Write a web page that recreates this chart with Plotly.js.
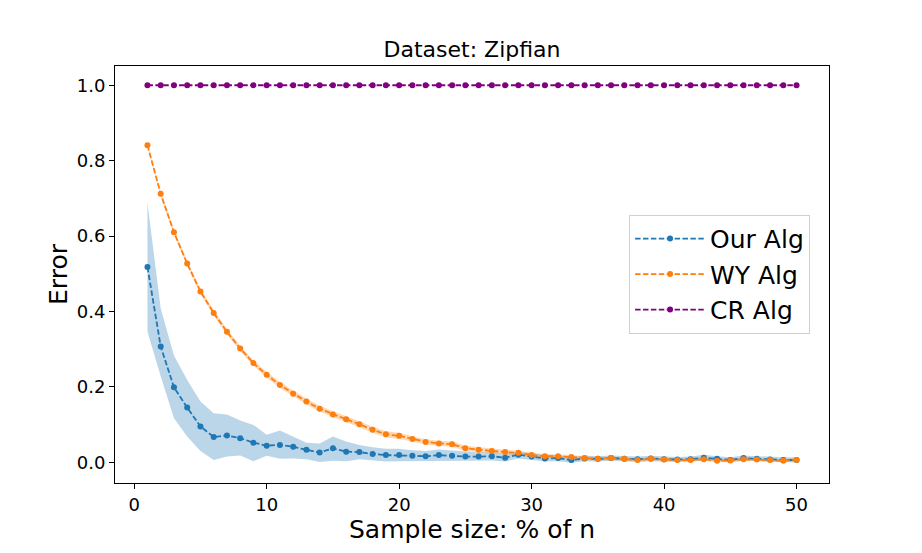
<!DOCTYPE html>
<html>
<head>
<meta charset="utf-8">
<script src="https://cdn.plot.ly/plotly-3.0.1.min.js"></script>
<style>html,body{margin:0;padding:0;background:#fff;}#chart{width:922px;height:553px;}</style>
</head>
<body>
<div id="chart"></div>
<script>
const sampleSize = [1,2,3,4,5,6,7,8,9,10,11,12,13,14,15,16,17,18,19,20,21,22,23,24,25,26,27,28,29,30,31,32,33,34,35,36,37,38,39,40,41,42,43,44,45,46,47,48,49,50];

const ourMean = [0.518,0.307,0.199,0.145,0.095,0.067,0.071,0.064,0.052,0.044,0.046,0.041,0.033,0.026,0.037,0.028,0.027,0.022,0.019,0.019,0.017,0.016,0.019,0.017,0.015,0.015,0.016,0.012,0.020,0.015,0.010,0.011,0.006,0.010,0.009,0.011,0.009,0.008,0.010,0.008,0.007,0.008,0.012,0.009,0.006,0.011,0.009,0.007,0.006,0.006];
const ourUpper = [0.688,0.408,0.283,0.218,0.161,0.130,0.127,0.111,0.099,0.073,0.084,0.068,0.052,0.050,0.068,0.055,0.046,0.040,0.036,0.036,0.032,0.030,0.034,0.031,0.028,0.026,0.027,0.022,0.028,0.024,0.019,0.019,0.014,0.018,0.016,0.018,0.016,0.015,0.017,0.015,0.014,0.015,0.020,0.016,0.013,0.018,0.016,0.014,0.013,0.013];
const ourLower = [0.346,0.228,0.117,0.068,0.030,0.006,0.015,0.018,0.003,0.017,0.009,0.010,0.008,0.001,0.004,0.003,0.008,0.004,0.002,0.003,0.003,0.003,0.005,0.004,0.003,0.004,0.005,0.002,0.010,0.006,0.002,0.003,-0.001,0.003,0.002,0.004,0.002,0.001,0.003,0.002,0.001,0.002,0.005,0.003,0.000,0.005,0.003,0.001,0.000,0.000];

const wyMean = [0.841,0.712,0.610,0.527,0.453,0.396,0.346,0.302,0.263,0.232,0.205,0.182,0.161,0.142,0.127,0.114,0.101,0.086,0.074,0.070,0.062,0.054,0.050,0.048,0.037,0.033,0.030,0.027,0.025,0.019,0.016,0.016,0.014,0.011,0.009,0.011,0.009,0.006,0.009,0.007,0.006,0.006,0.008,0.004,0.005,0.008,0.007,0.006,0.004,0.006];
const wyUpper = [0.845,0.717,0.616,0.533,0.460,0.403,0.353,0.309,0.270,0.240,0.213,0.190,0.169,0.150,0.135,0.122,0.109,0.094,0.082,0.078,0.069,0.061,0.057,0.055,0.044,0.040,0.036,0.033,0.031,0.025,0.022,0.021,0.019,0.016,0.014,0.015,0.013,0.010,0.013,0.011,0.010,0.010,0.012,0.008,0.009,0.012,0.011,0.010,0.008,0.010];
const wyLower = [0.837,0.707,0.604,0.521,0.446,0.389,0.339,0.295,0.256,0.224,0.197,0.174,0.153,0.134,0.119,0.106,0.093,0.078,0.066,0.062,0.055,0.047,0.043,0.041,0.030,0.026,0.024,0.021,0.019,0.013,0.010,0.011,0.009,0.006,0.004,0.007,0.005,0.002,0.005,0.003,0.002,0.002,0.004,0.000,0.001,0.004,0.003,0.002,0.000,0.002];

const crMean = [1,1,1,1,1,1,1,1,1,1,1,1,1,1,1,1,1,1,1,1,1,1,1,1,1,1,1,1,1,1,1,1,1,1,1,1,1,1,1,1,1,1,1,1,1,1,1,1,1,1];

const seriesNames = ["Our Alg", "WY Alg", "CR Alg"];
const xTicks = [0,10,20,30,40,50];
const yTicks = [0.0,0.2,0.4,0.6,0.8,1.0];

const BLUE = "#1f77b4", ORANGE = "#ff7f0e", PURPLE = "#800080";
const DASH = "5.5px,2.4px";

function band(lower, upper, fillColor) {
  return [
    {x: sampleSize, y: lower, type: "scatter", mode: "lines", line: {width: 0, color: fillColor}, showlegend: false, hoverinfo: "skip"},
    {x: sampleSize, y: upper, type: "scatter", mode: "lines", line: {width: 0, color: fillColor}, fill: "tonexty", fillcolor: fillColor, showlegend: false, hoverinfo: "skip"}
  ];
}
function line(y, name, color) {
  return {x: sampleSize, y: y, type: "scatter", mode: "lines+markers", name: name,
    line: {color: color, width: 1.8, dash: DASH}, marker: {color: color, size: 6}};
}

const data = [].concat(
  band(ourLower, ourUpper, "rgba(31,119,180,0.3)"),
  band(wyLower, wyUpper, "rgba(255,127,14,0.3)"),
  [line(ourMean, seriesNames[0], BLUE), line(wyMean, seriesNames[1], ORANGE), line(crMean, seriesNames[2], PURPLE)]
);

const FONT = "DejaVu Sans, sans-serif";
const layout = {
  width: 922, height: 553,
  margin: {l: 115, r: 93, t: 66, b: 70},
  paper_bgcolor: "#fff", plot_bgcolor: "#fff",
  font: {family: FONT, color: "#000"},
  title: {text: "Dataset: Zipfian", font: {family: FONT, size: 22, color: "#000"}, x: 0.5, xref: "paper", y: 0.91, yref: "container", yanchor: "middle"},
  xaxis: {
    range: [-1.45, 52.45], tickvals: xTicks, ticktext: xTicks.map(String),
    showgrid: false, zeroline: false, showline: true, linecolor: "#000", linewidth: 1, mirror: true,
    ticks: "outside", ticklen: 5, tickwidth: 1, tickcolor: "#000",
    tickfont: {family: FONT, size: 18, color: "#000"},
    title: {text: "Sample size: % of n", font: {family: FONT, size: 25, color: "#000"}, standoff: 4},
    automargin: false
  },
  yaxis: {
    range: [-0.055, 1.051], tickvals: yTicks, ticktext: yTicks.map(v => v.toFixed(1)),
    showgrid: false, zeroline: false, showline: true, linecolor: "#000", linewidth: 1, mirror: true,
    ticks: "outside", ticklen: 5, tickwidth: 1, tickcolor: "#000",
    tickfont: {family: FONT, size: 18, color: "#000"},
    title: {text: "Error", font: {family: FONT, size: 25, color: "#000"}, standoff: 2},
    automargin: false
  },
  legend: {
    x: 0.72, y: 0.643, xanchor: "left", yanchor: "top", traceorder: "normal",
    bgcolor: "rgba(255,255,255,0.8)", bordercolor: "#d0d0d0", borderwidth: 1,
    font: {family: FONT, size: 25, color: "#000"}, itemwidth: 70, tracegroupgap: 0
  },
  showlegend: true
};

Plotly.newPlot("chart", data, layout, {staticPlot: true, displayModeBar: false});
</script>
</body>
</html>
